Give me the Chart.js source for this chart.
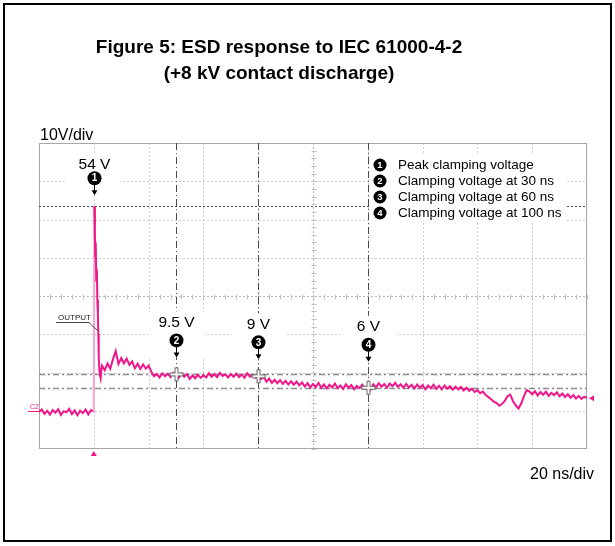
<!DOCTYPE html>
<html>
<head>
<meta charset="utf-8">
<title>ESD response to IEC 61000-4-2</title>
<script src="https://cdn.jsdelivr.net/npm/chart.js@4.4.1/dist/chart.umd.min.js"></script>
<style>
	html, body { margin: 0; padding: 0; background: #fff; }
	#wrap { position: relative; width: 615px; height: 546px; overflow: hidden; }
	#wrap canvas { position: absolute; left: 0; top: 0; }
	#frame { position: absolute; left: 3px; top: 3px; width: 605px; height: 535px; border: 2px solid #000; pointer-events: none; }
</style>
</head>
<body>
<div id="wrap">
	<canvas id="esd-chart" width="615" height="546"></canvas>
	<div id="frame"></div>
</div>
<script>
// Scope capture values (volts)
var baselineStartNs = -20; // pre-trigger samples, 1 ns apart
var baselineVolts   = [-0.3, 0.3, -0.8, 0.0, -1.0, 0.2, -0.5, 0.4, -1.1, -0.1,
	-0.4, 0.5, -0.9, 0.1, -1.2, 0.0, -0.6, 0.3, -1.0, 0.2];

var spikeNs    = [0, 0.2, 0.4, 0.55, 0.7, 0.9, 1.1, 1.3, 1.5, 1.65, 1.8, 2.0, 2.2, 2.5, 2.8];
var spikeVolts = [-0.2, 53.5, 46, 40, 44, 34, 37, 29, 25, 20, 14, 11, 9.5, 8.5, 11];

var tailStartNs = 3; // tail samples, 1 ns apart
var tailVolts   = [
	11.8, 10.6, 12.4, 11.0, 13.5, 15.6, 12.2, 13.8, 12.4, 13.6,
	12.0, 12.9, 11.1, 12.3, 10.9, 12.1, 11.0, 11.8, 10.2, 9.0,
	9.6, 8.7, 9.8, 9.0, 9.7, 8.8, 9.9, 9.4, 8.6, 9.7,
	8.9, 9.6, 8.3, 9.2, 8.5, 9.4, 8.6, 9.3, 8.7, 9.8,
	8.9, 9.6, 8.8, 9.9, 9.1, 9.5, 8.7, 9.6, 8.9, 9.7,
	8.8, 9.5, 8.6, 9.8, 8.9, 9.4, 8.6, 9.1, 8.3, 8.9,
	7.6, 8.4, 7.3, 8.1, 7.2, 8.0, 7.0, 7.8, 6.9, 7.7,
	6.8, 7.6, 6.6, 7.4, 6.3, 7.2, 6.1, 7.0, 6.2, 7.3,
	6.0, 6.9, 5.8, 6.8, 6.1, 7.1, 5.9, 6.6, 5.7, 6.9,
	6.0, 6.7, 5.6, 6.5, 5.9, 6.8, 5.7, 6.2, 5.5, 6.9,
	6.1, 7.2, 6.3, 7.0, 6.0, 7.1, 6.4, 7.3, 6.2, 6.9,
	6.0, 7.0, 6.1, 6.8, 5.8, 6.9, 6.0, 6.7, 5.6, 6.6,
	5.9, 6.8, 5.7, 6.5, 5.6, 6.6, 5.8, 6.4, 5.5, 6.3,
	5.6, 6.2, 5.3, 6.0, 5.2, 5.8, 4.9, 5.4, 4.6, 5.0,
	4.1, 3.6, 3.0, 2.4, 2.0, 1.3, 1.8, 2.6, 3.8, 4.2,
	2.5, 1.4, 0.6, 1.9, 3.8, 5.4, 5.0, 4.3, 5.1, 4.0,
	4.9, 4.2, 5.0, 3.9, 4.7, 4.1, 4.8, 3.8, 4.5, 3.6,
	4.3, 3.4, 4.1, 3.2, 3.9, 3.1, 3.7, 3.3
];

// Measurement markers and cursors
var markerNs     = [0, 30, 60, 100];
var markerVolts  = [54, 9.5, 9, 6];
var markerLabels = ['54 V', '9.5 V', '9 V', '6 V'];
var legendLabels = [
	'Peak clamping voltage',
	'Clamping voltage at 30 ns',
	'Clamping voltage at 60 ns',
	'Clamping voltage at 100 ns'
];
var cursorNs        = [30, 60, 100];
var peakCursorVolts = 53.5;
var levelCursorVolts = [9.5, 6];

// Screen: 10 x 8 divisions
var timeRangeNs = [-20, 180];
var voltRange   = [-10, 70];
var timeDivNs   = 20;
var voltDiv     = 10;

var titleLines = ['Figure 5: ESD response to IEC 61000-4-2', '(+8 kV contact discharge)'];
var voltScaleNote = '10V/div';
var timeScaleNote = '20 ns/div';

(function () {
	'use strict';

	var FONT  = "'Liberation Sans', Arial, Helvetica, sans-serif";
	var TRACE = '#f0168a';

	function font(size, bold) {
		return (bold ? 'bold ' : '') + size + 'px ' + FONT;
	}

	function line(ctx, x1, y1, x2, y2) {
		ctx.beginPath();
		ctx.moveTo(x1, y1);
		ctx.lineTo(x2, y2);
		ctx.stroke();
	}

	function badge(ctx, x, y, r, n) {
		ctx.beginPath();
		ctx.arc(x, y, r, 0, Math.PI * 2);
		ctx.fillStyle = '#000';
		ctx.fill();
		ctx.fillStyle    = '#fff';
		ctx.font         = font(r + 3, true);
		ctx.textAlign    = 'center';
		ctx.textBaseline = 'middle';
		ctx.fillText(String(n), x, y + 0.5);
	}

	var ScopeChart = {
		chart: null,

		init: function () {
			var ctx = document.getElementById('esd-chart');
			if ( ! ctx) {
				return;
			}

			this.chart = new Chart(ctx, {
				type: 'line',
				data: {
					datasets: [{
						data: this.buildTrace(),
						borderColor: TRACE,
						borderWidth: 2,
						pointRadius: 0,
						tension: 0,
						segment: {
							// fast rising edge shows up fainter on the scope
							borderColor: function (c) {
								return (c.p1.parsed.y - c.p0.parsed.y > 20) ? '#f7a6cc' : undefined;
							}
						}
					}]
				},
				options: {
					responsive: false,
					animation: false,
					events: [],
					layout: { padding: { left: 39, top: 143, right: 28, bottom: 97 } },
					plugins: { legend: { display: false }, tooltip: { enabled: false } },
					scales: {
						x: { type: 'linear', min: timeRangeNs[0], max: timeRangeNs[1], display: false },
						y: { type: 'linear', min: voltRange[0], max: voltRange[1], display: false }
					}
				},
				plugins: [this.overlay]
			});
		},

		buildTrace: function () {
			var pts = [];
			baselineVolts.forEach(function (v, i) { pts.push({ x: baselineStartNs + i, y: v }); });
			spikeNs.forEach(function (t, i) { pts.push({ x: t, y: spikeVolts[i] }); });
			tailVolts.forEach(function (v, i) { pts.push({ x: tailStartNs + i, y: v }); });
			return pts;
		},

		overlay: {
			id: 'scopeOverlay',
			beforeDatasetsDraw: function (chart) {
				ScopeChart.drawGrid(chart);
				ScopeChart.drawCursors(chart);
			},
			afterDatasetsDraw: function (chart) {
				ScopeChart.drawMarkers(chart);
				ScopeChart.drawLegend(chart);
				ScopeChart.drawNotes(chart);
			}
		},

		drawGrid: function (chart) {
			var ctx = chart.ctx, a = chart.chartArea;
			var xs = chart.scales.x, ys = chart.scales.y;
			var t, v, x, y;
			var midT = (timeRangeNs[0] + timeRangeNs[1]) / 2;
			var midV = (voltRange[0] + voltRange[1]) / 2;

			ctx.save();
			ctx.lineWidth = 1;
			ctx.setLineDash([2, 2]);
			for (t = timeRangeNs[0] + timeDivNs; t < timeRangeNs[1]; t += timeDivNs) {
				x = Math.round(xs.getPixelForValue(t)) + 0.5;
				ctx.strokeStyle = (t === midT) ? '#b8b8b8' : '#cdcdcd';
				line(ctx, x, a.top, x, a.bottom);
			}
			for (v = voltRange[0] + voltDiv; v < voltRange[1]; v += voltDiv) {
				y = Math.round(ys.getPixelForValue(v)) + 0.5;
				ctx.strokeStyle = (v === midV) ? '#b8b8b8' : '#cdcdcd';
				line(ctx, a.left, y, a.right, y);
			}

			// minor ticks on the centre cross
			ctx.setLineDash([]);
			ctx.strokeStyle = '#c0c0c0';
			var cx = Math.round(xs.getPixelForValue(midT)) + 0.5;
			var cy = Math.round(ys.getPixelForValue(midV)) + 0.5;
			for (t = timeRangeNs[0]; t <= timeRangeNs[1]; t += timeDivNs / 5) {
				x = Math.round(xs.getPixelForValue(t)) + 0.5;
				line(ctx, x, cy - 2, x, cy + 3);
			}
			for (v = voltRange[0]; v <= voltRange[1]; v += voltDiv / 5) {
				y = Math.round(ys.getPixelForValue(v)) + 0.5;
				line(ctx, cx - 2, y, cx + 3, y);
			}

			ctx.strokeStyle = '#a6a6a6';
			ctx.strokeRect(a.left + 0.5, a.top + 0.5, a.right - a.left - 1, a.bottom - a.top - 1);
			ctx.restore();
		},

		drawCursors: function (chart) {
			var ctx = chart.ctx, a = chart.chartArea;
			var xs = chart.scales.x, ys = chart.scales.y;

			ctx.save();
			ctx.lineWidth   = 1;
			ctx.strokeStyle = '#4a4a4a';
			ctx.setLineDash([7, 3, 1, 3]);
			cursorNs.forEach(function (t) {
				var x = Math.round(xs.getPixelForValue(t)) + 0.5;
				line(ctx, x, a.top, x, a.bottom);
			});

			ctx.setLineDash([2, 2]);
			var py = Math.round(ys.getPixelForValue(peakCursorVolts)) + 0.5;
			line(ctx, a.left, py, a.right, py);

			ctx.lineWidth   = 1.5;
			ctx.strokeStyle = '#8c8c8c';
			ctx.setLineDash([6, 3, 2, 3]);
			levelCursorVolts.forEach(function (v) {
				var y = Math.round(ys.getPixelForValue(v)) + 0.5;
				line(ctx, a.left, y, a.right, y);
			});
			ctx.restore();
		},

		drawMarkers: function (chart) {
			var ctx = chart.ctx;
			var xs = chart.scales.x, ys = chart.scales.y;
			var lift = [26, 34, 34, 43]; // badge height above the measured point

			ctx.save();
			markerNs.forEach(function (t, i) {
				var x  = Math.round(xs.getPixelForValue(t)) + 0.5;
				var y  = ys.getPixelForValue(markerVolts[i]);
				var by = y - lift[i];
				var ty = by - (i === 0 ? 13 : 18);
				var tip = by + 17;

				// white patch hides the grid behind the label
				ctx.fillStyle = '#fff';
				ctx.fillRect(x - 28, ty - 11, 56, tip - ty + 11);

				if (i > 0) {
					ctx.lineCap = 'butt';
					ctx.strokeStyle = '#6a6a6a';
					ctx.lineWidth = 4;
					line(ctx, x - 7, y, x + 7, y);
					line(ctx, x, y - 7, x, y + 7);
					ctx.strokeStyle = '#f4f4f4';
					ctx.lineWidth = 2;
					line(ctx, x - 6, y, x + 6, y);
					line(ctx, x, y - 6, x, y + 6);
				}

				ctx.strokeStyle = '#000';
				ctx.lineWidth = 1;
				line(ctx, x, by, x, tip - 4);
				ctx.beginPath();
				ctx.moveTo(x - 3, tip - 5);
				ctx.lineTo(x + 3, tip - 5);
				ctx.lineTo(x, tip);
				ctx.closePath();
				ctx.fillStyle = '#000';
				ctx.fill();

				badge(ctx, x, by, 7, i + 1);

				ctx.fillStyle    = '#000';
				ctx.font         = font(15.5);
				ctx.textAlign    = 'center';
				ctx.textBaseline = 'middle';
				ctx.fillText(markerLabels[i], x, ty);
			});
			ctx.restore();
		},

		drawLegend: function (chart) {
			var ctx = chart.ctx;

			ctx.save();
			ctx.fillStyle = '#fff';
			ctx.fillRect(370, 153, 196, 70);
			legendLabels.forEach(function (label, i) {
				var y = 165 + i * 16;
				badge(ctx, 380, y, 6.5, i + 1);
				ctx.fillStyle    = '#000';
				ctx.font         = font(13.5);
				ctx.textAlign    = 'left';
				ctx.textBaseline = 'middle';
				ctx.fillText(label, 398, y + 0.5);
			});
			ctx.restore();
		},

		drawNotes: function (chart) {
			var ctx = chart.ctx, a = chart.chartArea;
			var xs = chart.scales.x, ys = chart.scales.y;

			ctx.save();
			ctx.fillStyle = '#000';
			ctx.textBaseline = 'alphabetic';
			ctx.textAlign = 'center';
			ctx.font = font(19, true);
			ctx.fillText(titleLines[0], 279, 53);
			ctx.fillText(titleLines[1], 279, 79);

			ctx.textAlign = 'left';
			ctx.font = font(16);
			ctx.fillText(voltScaleNote, 40, 140);
			ctx.fillText(timeScaleNote, 530, 479);

			// channel label on the trace
			ctx.fillStyle = '#222';
			ctx.font = font(8);
			ctx.fillText('OUTPUT', 58, 320);
			ctx.strokeStyle = '#444';
			ctx.lineWidth = 1;
			line(ctx, 56, 322.5, 89, 322.5);
			line(ctx, 89, 322.5, 98, 331);

			// ground reference, trigger and end-of-trace markers
			var gy = Math.round(ys.getPixelForValue(0)) + 0.5;
			ctx.strokeStyle = TRACE;
			ctx.fillStyle = TRACE;
			line(ctx, 28, gy, a.left, gy);
			ctx.font = font(7);
			ctx.fillText('C2', 30, gy - 3);

			var tx = xs.getPixelForValue(0);
			ctx.beginPath();
			ctx.moveTo(tx - 3, a.bottom + 7);
			ctx.lineTo(tx + 3, a.bottom + 7);
			ctx.lineTo(tx, a.bottom + 2);
			ctx.closePath();
			ctx.fill();

			var ey = ys.getPixelForValue(tailVolts[tailVolts.length - 1]);
			ctx.beginPath();
			ctx.moveTo(a.right + 7, ey - 3);
			ctx.lineTo(a.right + 7, ey + 3);
			ctx.lineTo(a.right + 2, ey);
			ctx.closePath();
			ctx.fill();
			ctx.restore();
		}
	};

	ScopeChart.init();
})();
</script>
</body>
</html>
